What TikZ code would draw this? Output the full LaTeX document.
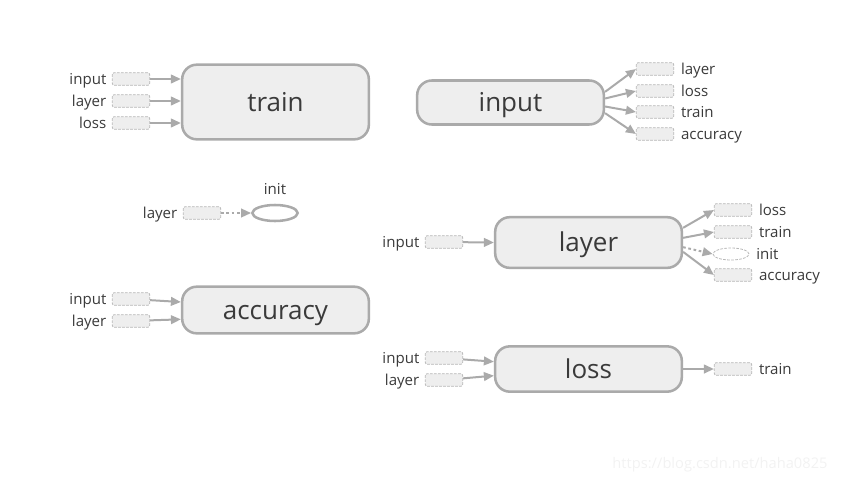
\documentclass[tikz,border=0pt]{standalone}
\usepackage{fontspec}
\setmainfont{Open Sans}
\usetikzlibrary{arrows.meta,positioning,shapes.geometric}
\definecolor{edge}{HTML}{AAAAAA}
\definecolor{boxfill}{HTML}{EEEEEE}
\definecolor{ink}{HTML}{3A3A3A}

\begin{document}
\begin{tikzpicture}[
    x=0.75pt, y=-0.75pt,
    op/.style={draw=edge, line width=1.9pt, rounded corners=11pt, fill=boxfill, minimum width=140pt, text=ink, font=\fontsize{19.5}{22}\selectfont, text height=13.8pt, text depth=0pt},
    port/.style={draw=edge!85, dash pattern=on 2pt off 1pt, line width=0.6pt, rounded corners=1.5pt, fill=boxfill, minimum width=28pt, minimum height=9.5pt, inner sep=0pt},
    lbl/.style={text=ink, font=\fontsize{11.3}{13}\selectfont, inner sep=0pt, text height=8pt, text depth=0pt},
    arr/.style={-{Triangle[length=7.5pt, width=6.5pt]}, line width=1.5pt, edge},
    darr/.style={arr, dash pattern=on 2pt off 2pt}
]
\useasboundingbox (0,0) rectangle (842,483);

% train
\node[op, minimum height=56pt] (train) at (275.5,102) {train};
\node[port, label={[lbl, label distance=4pt]left:input}] (tr-in) at (131,79) {};
\node[port, label={[lbl, label distance=4pt]left:layer}] (tr-la) at (131,101) {};
\node[port, label={[lbl, label distance=4pt]left:loss}] (tr-lo) at (131,123) {};
\draw[arr] (tr-in) -- (tr-in -| train.west);
\draw[arr] (tr-la) -- (tr-la -| train.west);
\draw[arr] (tr-lo) -- (tr-lo -| train.west);

% input
\node[op, minimum height=33pt] (inp) at (510.5,102.5) {input};
\node[port, label={[lbl, label distance=5pt]right:layer}] (in-la) at (655,69) {};
\node[port, label={[lbl, label distance=5pt]right:loss}] (in-lo) at (655,91) {};
\node[port, label={[lbl, label distance=5pt]right:train}] (in-tr) at (655,112) {};
\node[port, label={[lbl, label distance=5pt]right:accuracy}] (in-ac) at (655,134) {};
\draw[arr] ([yshift=8pt]inp.east) -- (in-la.west);
\draw[arr] ([yshift=3pt]inp.east) -- (in-lo.west);
\draw[arr] ([yshift=-3pt]inp.east) -- (in-tr.west);
\draw[arr] ([yshift=-8pt]inp.east) -- (in-ac.west);

% init
\node[ellipse, draw=edge, line width=1.9pt, minimum width=34pt, minimum height=12pt, inner sep=0pt,
      label={[lbl, label distance=7pt]above:init}] (init) at (275,213) {};
\node[port, label={[lbl, label distance=4pt]left:layer}] (it-la) at (202,213) {};
\draw[darr] (it-la) -- (init);

% layer
\node[op, minimum height=38pt] (layer) at (588.5,242.5) {layer};
\node[port, label={[lbl, label distance=4pt]left:input}] (la-in) at (444,242) {};
\node[port, label={[lbl, label distance=5pt]right:loss}] (la-lo) at (733,210) {};
\node[port, label={[lbl, label distance=5pt]right:train}] (la-tr) at (733,232) {};
\node[port, ellipse, rounded corners=0pt, fill=none, minimum width=27pt, minimum height=9pt,
      label={[lbl, label distance=5pt]right:init}] (la-it) at (731,254) {};
\node[port, label={[lbl, label distance=5pt]right:accuracy}] (la-ac) at (733,275) {};
\draw[arr] (la-in) -- (layer.west);
\draw[arr] ([yshift=11pt]layer.east) -- (la-lo.west);
\draw[arr] ([yshift=3.5pt]layer.east) -- (la-tr.west);
\draw[darr] ([yshift=-3.5pt]layer.east) -- (la-it.west);
\draw[arr] ([yshift=-7pt]layer.east) -- (la-ac.west);

% accuracy
\node[op, minimum height=35pt] (acc) at (275.5,310) {accuracy};
\node[port, label={[lbl, label distance=4pt]left:input}] (ac-in) at (131,299) {};
\node[port, label={[lbl, label distance=4pt]left:layer}] (ac-la) at (131,321) {};
\draw[arr] (ac-in) -- ([yshift=6pt]acc.west);
\draw[arr] (ac-la) -- ([yshift=-7pt]acc.west);

% loss
\node[op, minimum height=34pt] (loss) at (588.5,369) {loss};
\node[port, label={[lbl, label distance=4pt]left:input}] (lo-in) at (444,358) {};
\node[port, label={[lbl, label distance=4pt]left:layer}] (lo-la) at (444,380) {};
\node[port, label={[lbl, label distance=5pt]right:train}] (lo-tr) at (733,369) {};
\draw[arr] (lo-in) -- ([yshift=5.5pt]loss.west);
\draw[arr] (lo-la) -- ([yshift=-5pt]loss.west);
\draw[arr] (loss) -- (lo-tr);

\node[text=black!5, font=\fontsize{11}{13}\selectfont] (mark) at (720,465) {https://blog.csdn.net/haha0825};
\end{tikzpicture}
\end{document}
